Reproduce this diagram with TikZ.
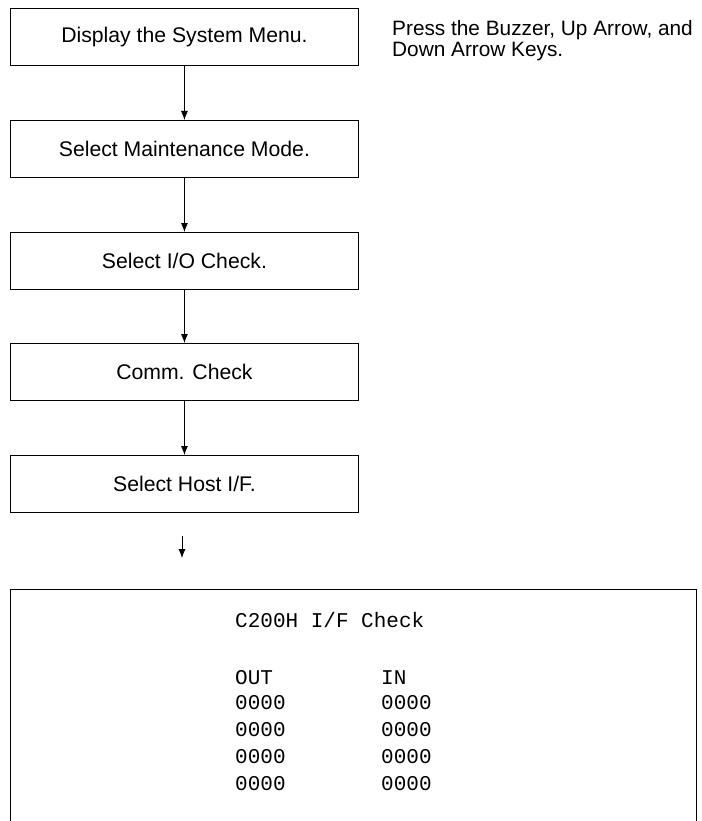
\documentclass[tikz,border=0pt]{standalone}
\usepackage{fontspec}
\setmainfont{Liberation Sans}
\setmonofont{Liberation Mono}
\usetikzlibrary{arrows.meta}
\begin{document}
\begin{tikzpicture}[x=1pt,y=-1pt,
  stepbox/.style={draw,line width=0.9pt,minimum width=348pt,minimum height=57pt,inner sep=0pt,font=\fontsize{21.2}{22}\selectfont,anchor=north west},
  flow/.style={-{Latex[length=9pt,width=7pt]},line width=0.8pt},
  mono/.style={font=\ttfamily\fontsize{21}{22}\selectfont,anchor=base west,inner sep=0pt}]
\useasboundingbox (0,0) rectangle (701,821);
\node[stepbox] (b1) at (10,8) {Display the System Menu.};
\node[stepbox] (b2) at (10,120) {Select Maintenance Mode.};
\node[stepbox] (b3) at (10,232) {Select I/O Check.};
\node[stepbox] (b4) at (10,343) {Comm. Check};
\node[stepbox] (b5) at (10,455) {Select Host I/F.};
\draw[flow] (b1) -- (b2);
\draw[flow] (b2) -- (b3);
\draw[flow] (b3) -- (b4);
\draw[flow] (b4) -- (b5);
\node[anchor=base west,align=left,inner sep=0pt,font=\fontsize{20.8}{21}\selectfont] (note) at (392,57) {Press the Buzzer, Up Arrow, and\\Down Arrow Keys.};
\coordinate (s1) at (182,536);
\coordinate (s2) at (182,558);
\draw[flow] (s1) -- (s2);
\begin{scope}
\clip (0,0) rectangle (701,821);
\draw[line width=0.9pt] (10,830) |- (696,589) -- (696,830);
\end{scope}
\node[mono] (title) at (235,627) {C200H I/F Check};
\node[mono] (out) at (235,684) {OUT};
\node[mono] (in) at (381,684) {IN};
\foreach \i/\y in {1/709,2/736,3/763,4/790}{
  \node[mono] (o\i) at (235,\y) {0000};
  \node[mono] (n\i) at (381,\y) {0000};
}
\end{tikzpicture}
\end{document}
